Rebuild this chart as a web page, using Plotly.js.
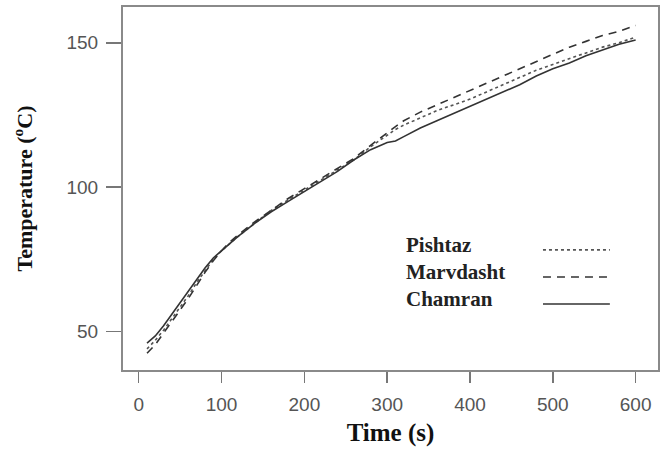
<!DOCTYPE html>
<html>
<head>
<meta charset="utf-8">
<script src="https://cdn.plot.ly/plotly-3.0.1.min.js"></script>
<style>html,body{margin:0;padding:0;background:#fff;}#chart{width:661px;height:457px;}</style>
</head>
<body>
<div id="chart"></div>
<script>
// Time (s)
const timeS = [10,20,30,40,50,60,70,80,90,100,110,120,140,160,180,200,220,240,260,280,300,310,320,340,360,380,400,420,440,460,480,500,520,540,560,580,600];
// Temperature (ºC)
const pishtaz   = [44,47,50.5,54.5,58.5,62.5,67,71,75,78,80.5,83,87.5,92,95.5,99,102.5,106,109.5,114,118,120,121.5,124,126.5,128.5,130.5,133,135.5,138,140.5,142.5,144.5,146.5,148.5,150,152];
const marvdasht = [42.5,45.5,49.5,53.5,57.5,61.5,66,70.5,74.5,78,81,83.5,88,92,96,99.5,103,106.5,110,114.5,119,121,123,126,128.5,131,133.5,136,138.5,141,143.5,146,148.5,150.5,152.5,154,156];
const chamran   = [46,48.5,52,56,60,64,68,72,75.5,78,80.5,83,87.5,91.5,95,98.5,102,105.5,109.5,113,115.5,116,117.5,120.5,123,125.5,128,130.5,133,135.5,138.5,141,143,145.5,147.5,149.5,151];
const seriesNames = ["Pishtaz","Marvdasht","Chamran"];
const xTicks = [0,100,200,300,400,500,600];
const yTicks = [50,100,150];

const styles = [
  {color:"#555555", dash:"dot", width:1.6},
  {color:"#333333", dash:"8px,6px", width:1.6},
  {color:"#333333", dash:"solid", width:1.6}
];
const ys = [pishtaz, marvdasht, chamran];
const traces = ys.map((y,i)=>({
  x: timeS, y: y, type:"scatter", mode:"lines", name: seriesNames[i],
  line: styles[i], showlegend:false
}));

// custom legend (text left, line sample right)
const legTextY = [0.344, 0.270, 0.196];
const legLineY = [0.331, 0.256, 0.182];
const annotations = seriesNames.map((n,i)=>({
  xref:"paper", yref:"paper", x:0.525, y:legTextY[i], xanchor:"left", yanchor:"middle",
  text:"<b>"+n+"</b>", showarrow:false,
  font:{family:"Liberation Serif, Times New Roman, serif", size:21, color:"#222"}
}));
const shapes = seriesNames.map((n,i)=>({
  type:"line", xref:"paper", yref:"paper", x0:0.785, x1:0.910, y0:legLineY[i], y1:legLineY[i],
  line:styles[i]
}));

const tickFont = {family:"Liberation Sans, Arial, sans-serif", size:19, color:"#555"};

const layout = {
  width:661, height:457,
  margin:{l:123, r:3, t:7, b:87},
  paper_bgcolor:"#fff", plot_bgcolor:"#fff",
  xaxis:{
    range:[-19,627], tickvals:xTicks, ticktext:xTicks.map(String),
    showgrid:false, zeroline:false, showline:true, mirror:true,
    linecolor:"#8a8a8a", linewidth:2, ticks:"outside", ticklen:11, tickwidth:1.5, tickcolor:"#777",
    tickfont:tickFont, ticklabelstandoff:5,
    title:{text:"<b>Time (s)</b>", font:{family:"Liberation Serif, Times New Roman, serif", size:25, color:"#111"}, standoff:10}
  },
  yaxis:{
    range:[36.7,162.4], tickvals:yTicks, ticktext:yTicks.map(String),
    showgrid:false, zeroline:false, showline:true, mirror:true,
    linecolor:"#8a8a8a", linewidth:2, ticks:"outside", ticklen:15, tickwidth:1.5, tickcolor:"#777",
    tickfont:tickFont, ticklabelstandoff:4,
    title:{text:"<b>Temperature (<sup>o</sup>C)</b>", font:{family:"Liberation Serif, Times New Roman, serif", size:22, color:"#111"}, standoff:28}
  },
  annotations: annotations,
  shapes: shapes
};
Plotly.newPlot("chart", traces, layout, {displayModeBar:false, staticPlot:true});
</script>
</body>
</html>
